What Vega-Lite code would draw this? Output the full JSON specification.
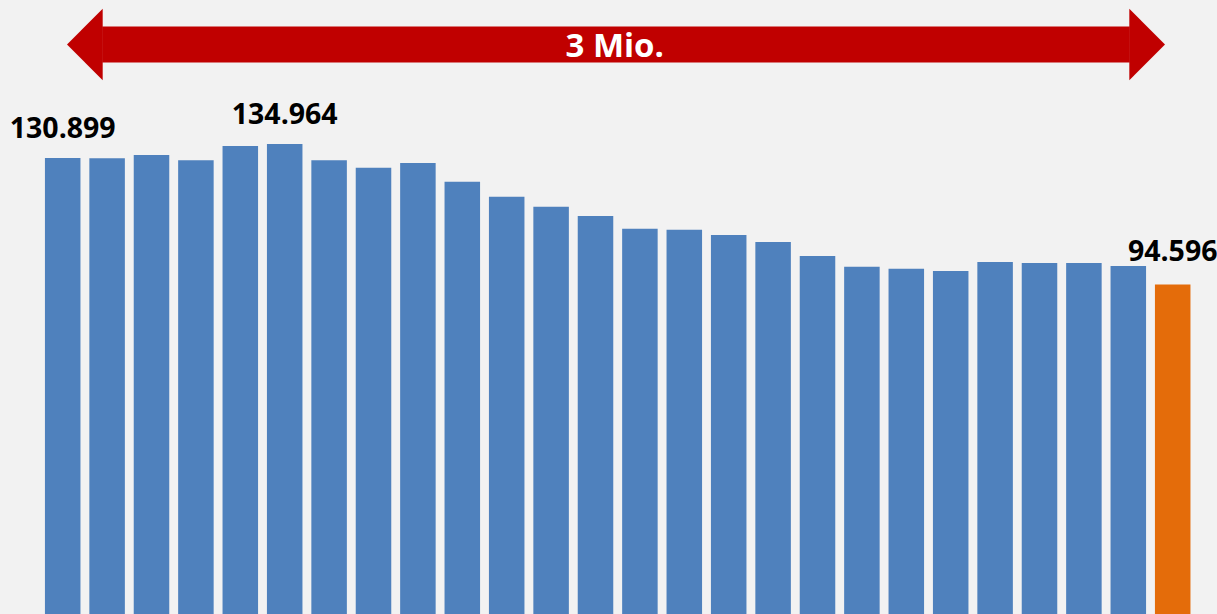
{
  "$schema": "https://vega.github.io/schema/vega-lite/v6.json",
  "width": 1154.4,
  "height": 614,
  "autosize": {"type": "none"},
  "padding": {"left": 40.5, "right": 22.1, "top": 0, "bottom": 0},
  "background": "#f2f2f2",
  "config": {"view": {"stroke": null}, "font": "Open Sans"},
  "datasets": {
    "bars": [
      {"year": "1995", "value": 130.899},
      {"year": "1996", "value": 130.85},
      {"year": "1997", "value": 131.8},
      {"year": "1998", "value": 130.3},
      {"year": "1999", "value": 134.4},
      {"year": "2000", "value": 134.964},
      {"year": "2001", "value": 130.3},
      {"year": "2002", "value": 128.1},
      {"year": "2003", "value": 129.5},
      {"year": "2004", "value": 124.1},
      {"year": "2005", "value": 119.8},
      {"year": "2006", "value": 116.9},
      {"year": "2007", "value": 114.3},
      {"year": "2008", "value": 110.6},
      {"year": "2009", "value": 110.3},
      {"year": "2010", "value": 108.8},
      {"year": "2011", "value": 106.8},
      {"year": "2012", "value": 102.8},
      {"year": "2013", "value": 99.7},
      {"year": "2014", "value": 99.1},
      {"year": "2015", "value": 98.5},
      {"year": "2016", "value": 101.1},
      {"year": "2017", "value": 100.8},
      {"year": "2018", "value": 100.8},
      {"year": "2019", "value": 99.9},
      {"year": "2020", "value": 94.596}
    ],
    "arrow": [
      {"from": "1995", "to": "2020", "level": 163.5, "label": "3 Mio."}
    ]
  },
  "layer": [
    {
      "data": {"name": "bars"},
      "mark": {"type": "bar"},
      "encoding": {
        "x": {"field": "year", "type": "ordinal", "scale": {"paddingInner": 0.2, "paddingOuter": 0.1}, "axis": null},
        "y": {"field": "value", "type": "quantitative", "scale": {"domain": [0, 176.3], "nice": false}, "axis": null},
        "color": {"condition": {"test": "datum.year === '2020'", "value": "#e46c0a"}, "value": "#4f81bd"}
      }
    },
    {
      "data": {"name": "bars"},
      "transform": [
        {"joinaggregate": [{"op": "max", "field": "value", "as": "maxv"}]},
        {"filter": "datum.year === '1995' || datum.value === datum.maxv"}
      ],
      "mark": {"type": "text", "fontSize": 28.5, "fontWeight": "bold", "baseline": "alphabetic", "align": "center", "dy": -20, "color": "#000000"},
      "encoding": {
        "x": {"field": "year", "type": "ordinal"},
        "y": {"field": "value", "type": "quantitative"},
        "text": {"field": "value", "type": "quantitative", "format": ".3f"}
      }
    },
    {
      "data": {"name": "bars"},
      "transform": [
        {"filter": "datum.year === '2020'"}
      ],
      "mark": {"type": "text", "fontSize": 28.5, "fontWeight": "bold", "baseline": "alphabetic", "align": "center", "dy": -24, "color": "#000000"},
      "encoding": {
        "x": {"field": "year", "type": "ordinal"},
        "y": {"field": "value", "type": "quantitative"},
        "text": {"field": "value", "type": "quantitative", "format": ".3f"}
      }
    },
    {
      "data": {"name": "arrow"},
      "mark": {"type": "rule", "strokeWidth": 36, "strokeCap": "butt", "color": "#c00000", "xOffset": 39.5, "x2Offset": -42.9},
      "encoding": {
        "x": {"field": "from", "type": "ordinal"},
        "x2": {"field": "to"},
        "y": {"field": "level", "type": "quantitative"}
      }
    },
    {
      "data": {"name": "arrow"},
      "mark": {"type": "point", "shape": "M 0 -1 L 0 1 L -1 0 Z", "size": 5100, "filled": true, "opacity": 1, "strokeWidth": 0, "color": "#c00000", "xOffset": 40},
      "encoding": {
        "x": {"field": "from", "type": "ordinal"},
        "y": {"field": "level", "type": "quantitative"}
      }
    },
    {
      "data": {"name": "arrow"},
      "mark": {"type": "point", "shape": "M 0 -1 L 0 1 L 1 0 Z", "size": 5100, "filled": true, "opacity": 1, "strokeWidth": 0, "color": "#c00000", "xOffset": -43.4},
      "encoding": {
        "x": {"field": "to", "type": "ordinal"},
        "y": {"field": "level", "type": "quantitative"}
      }
    },
    {
      "data": {"name": "arrow"},
      "mark": {"type": "text", "x": {"expr": "width/2"}, "dx": -3, "dy": 12, "fontSize": 33, "fontWeight": "bold", "baseline": "alphabetic", "align": "center", "color": "#ffffff"},
      "encoding": {
        "y": {"field": "level", "type": "quantitative"},
        "text": {"field": "label"}
      }
    }
  ]
}
